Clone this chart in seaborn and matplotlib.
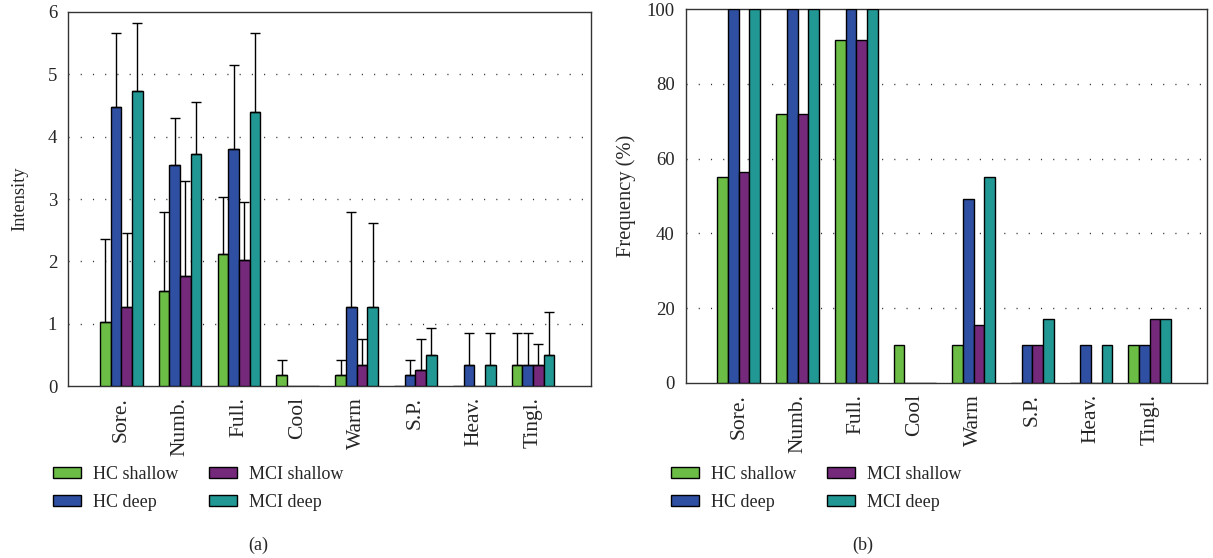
import matplotlib
matplotlib.use("Agg")
import matplotlib.pyplot as plt
import seaborn as sns
import pandas as pd

categories = ["Sore.", "Numb.", "Full.", "Cool", "Warm", "S.P.", "Heav.", "Tingl."]
groups = ["HC shallow", "HC deep", "MCI shallow", "MCI deep"]
colors = ["#6cbd46", "#2f4fa2", "#74297a", "#229894"]

# Panel (a): intensity means
hc_shallow_int = [1.02, 1.52, 2.11, 0.17, 0.17, 0.0, 0.0, 0.34]
hc_deep_int = [4.48, 3.55, 3.80, 0.0, 1.27, 0.17, 0.34, 0.34]
mci_shallow_int = [1.27, 1.77, 2.02, 0.0, 0.34, 0.25, 0.0, 0.34]
mci_deep_int = [4.73, 3.72, 4.39, 0.0, 1.27, 0.50, 0.34, 0.50]
# Panel (a): standard deviations (upper error bars)
hc_shallow_sd = [1.34, 1.27, 0.93, 0.25, 0.25, 0.0, 0.0, 0.51]
hc_deep_sd = [1.18, 0.75, 1.35, 0.0, 1.52, 0.25, 0.51, 0.51]
mci_shallow_sd = [1.18, 1.52, 0.94, 0.0, 0.41, 0.50, 0.0, 0.33]
mci_deep_sd = [1.10, 0.84, 1.27, 0.0, 1.35, 0.43, 0.51, 0.68]

# Panel (b): frequency (%)
hc_shallow_freq = [55.0, 72.0, 91.7, 10.0, 10.0, 0.0, 0.0, 10.0]
hc_deep_freq = [100.0, 100.0, 100.0, 0.0, 49.3, 10.0, 10.0, 10.0]
mci_shallow_freq = [56.4, 72.0, 91.7, 0.0, 15.5, 10.0, 0.0, 17.0]
mci_deep_freq = [100.0, 100.0, 100.0, 0.0, 55.0, 17.0, 10.0, 17.0]

int_series = [hc_shallow_int, hc_deep_int, mci_shallow_int, mci_deep_int]
sd_series = [hc_shallow_sd, hc_deep_sd, mci_shallow_sd, mci_deep_sd]
freq_series = [hc_shallow_freq, hc_deep_freq, mci_shallow_freq, mci_deep_freq]


def long_df(series):
    rows = []
    for g, vals in zip(groups, series):
        for c, v in zip(categories, vals):
            rows.append({"category": c, "group": g, "value": v})
    return pd.DataFrame(rows)


sns.set_theme(style="white")
plt.rcParams["font.family"] = ["Liberation Serif", "DejaVu Serif"]
plt.rcParams["axes.edgecolor"] = "#333333"
plt.rcParams["axes.linewidth"] = 1.0

fig = plt.figure(figsize=(12.13, 5.58), dpi=100)
axA = fig.add_axes([0.0563, 0.3082, 0.4307, 0.6703])
axB = fig.add_axes([0.5655, 0.3142, 0.4298, 0.6691])

FS = 13
XFS = 15.5
YFS = 13.5

for ax, series, ymax, step, ylabel, lfs in [
    (axA, int_series, 6, 1, "Intensity", 13.2),
    (axB, freq_series, 100, 20, "Frequency (%)", 14.8),
]:
    df = long_df(series)
    sns.barplot(data=df, x="category", y="value", hue="group", order=categories,
                hue_order=groups, palette=colors, saturation=1, width=0.726,
                edgecolor="black", linewidth=1.0, errorbar=None, ax=ax, zorder=3)
    ax.set_xlim(-0.9, 7.98)
    ax.set_ylim(0, ymax)
    ticks = list(range(0, ymax + 1, step))
    ax.set_yticks(ticks)
    ax.set_yticklabels([str(t) for t in ticks], fontsize=YFS)
    for t in ticks[1:-1]:
        ax.axhline(t, color="#333333", lw=1.0, ls=(0, (0.8, 8)), zorder=1)
    ax.set_xticks(range(len(categories)))
    ax.set_xticklabels(categories, rotation=90, fontsize=XFS)
    ax.tick_params(axis="both", direction="in", length=4, width=0.8, color="#333333")
    ax.tick_params(axis="x", pad=8)
    ax.tick_params(axis="y", pad=8)
    ax.set_xlabel("")
    ax.set_ylabel(ylabel, fontsize=lfs)
    for s in ax.spines.values():
        s.set_visible(True)
        s.set_color("#333333")

axA.yaxis.set_label_coords(-0.077, 0.5)
axB.yaxis.set_label_coords(-0.096, 0.5)

# error bars for panel (a), taken from the drawn bars
for cont, sds in zip(axA.containers, sd_series):
    for patch, sd in zip(cont.patches, sds):
        if sd <= 0:
            continue
        xc = patch.get_x() + patch.get_width() / 2
        h = patch.get_height()
        axA.errorbar(xc, h, yerr=[[0], [sd]], fmt="none", ecolor="black",
                     elinewidth=1.0, capsize=3.8, capthick=1.0, zorder=4)

for ax, x0 in [(axA, 52.7), (axB, 671.0)]:
    sns.move_legend(ax, loc="upper left", bbox_to_anchor=(x0 / 1213, 1 - 466 / 558),
                    bbox_transform=fig.transFigure, ncol=2, frameon=False, title=None,
                    fontsize=FS, borderpad=0, borderaxespad=0, handlelength=1.55,
                    handleheight=0.55, handletextpad=0.67, columnspacing=1.7,
                    labelspacing=0.6)

fig.text(258 / 1213, 1 - 545 / 558, "(a)", ha="center", va="center", fontsize=FS)
fig.text(863 / 1213, 1 - 545 / 558, "(b)", ha="center", va="center", fontsize=FS)

fig.savefig("out.png", dpi=100)
